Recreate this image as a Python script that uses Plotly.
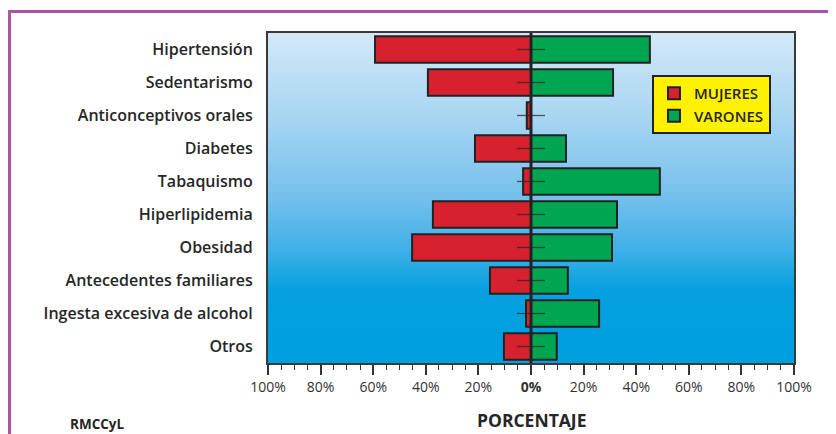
import plotly.graph_objects as go

categories = ["Hipertensión", "Sedentarismo", "Anticonceptivos orales", "Diabetes",
              "Tabaquismo", "Hiperlipidemia", "Obesidad", "Antecedentes familiares",
              "Ingesta excesiva de alcohol", "Otros"]
mujeres = [59.3, 39.2, 1.6, 21.3, 3.0, 37.3, 45.2, 15.6, 1.9, 10.3]
varones = [45.2, 31.2, 0.0, 13.3, 49.0, 32.7, 30.8, 14.0, 25.9, 9.8]
tick_vals = [-100, -80, -60, -40, -20, 0, 20, 40, 60, 80, 100]
tick_text = ["100%", "80%", "60%", "40%", "20%", "<b>0%</b>", "20%", "40%", "60%", "80%", "100%"]

FONT = "Open Sans"
TXT = "#262626"

fig = go.Figure()
fig.add_trace(go.Bar(
    y=categories, x=[-v for v in mujeres], orientation="h", name="MUJERES",
    marker=dict(color="#d7212e", line=dict(color="#222222", width=2)), width=0.8,
))
fig.add_trace(go.Bar(
    y=categories, x=varones, orientation="h", name="VARONES",
    marker=dict(color="#00a551", line=dict(color="#222222", width=2)), width=0.8,
))
fig.add_trace(go.Scatter(
    y=categories, x=[0] * len(categories), mode="markers", showlegend=False,
    marker=dict(symbol="line-ew", size=20, line=dict(width=1.3, color="rgba(40,40,40,0.75)")),
    hoverinfo="skip",
))

# gradient background bands
def hex2rgb(h):
    h = h.lstrip("#")
    return tuple(int(h[i:i + 2], 16) for i in (0, 2, 4))

stops = [(0.0, "#009fdf"), (0.22, "#05a1e0"), (0.34, "#3fb0e7"), (0.5, "#74c0ec"),
         (0.75, "#a9d6f2"), (1.0, "#d3e9f8")]

def color_at(t):
    for (a, ca), (b, cb) in zip(stops[:-1], stops[1:]):
        if a <= t <= b:
            f = (t - a) / (b - a)
            r1, g1, b1 = hex2rgb(ca)
            r2, g2, b2 = hex2rgb(cb)
            return "rgb(%d,%d,%d)" % (r1 + (r2 - r1) * f, g1 + (g2 - g1) * f, b1 + (b2 - b1) * f)
    return stops[-1][1]

N = 110
shapes = []
for i in range(N):
    y0 = i / N
    y1 = (i + 1) / N + 0.002
    shapes.append(dict(type="rect", xref="x domain", yref="y domain", x0=0, x1=1, y0=y0, y1=min(y1, 1),
                       fillcolor=color_at((i + 0.5) / N), line=dict(width=0), layer="below"))
# zero line
shapes.append(dict(type="line", xref="x", yref="y domain", x0=0, x1=0, y0=0, y1=1,
                   line=dict(color="#222222", width=3), layer="above"))
# purple frame
shapes.append(dict(type="rect", xref="paper", yref="paper", x0=-0.4914, x1=1.5, y0=-0.5, y1=1.065,
                   line=dict(color="#a855a8", width=3), layer="above"))

fig.update_layout(
    width=828, height=426,
    margin=dict(l=260, r=42, t=25, b=71),
    paper_bgcolor="white", plot_bgcolor="rgba(0,0,0,0)",
    barmode="relative", bargap=0.2,
    shapes=shapes,
    font=dict(family=FONT, color=TXT),
    showlegend=True,
    legend=dict(
        x=0.73, y=0.873, xanchor="left", yanchor="top",
        bgcolor="#fff200", bordercolor="#222222", borderwidth=2,
        font=dict(family=FONT, size=15, color=TXT, weight=600),
        traceorder="normal", itemwidth=30, tracegroupgap=0,
    ),
    annotations=[
        dict(text="<b>PORCENTAJE</b>", xref="paper", yref="paper", x=0.5, y=-0.173,
             showarrow=False, font=dict(family=FONT, size=17.5, color=TXT), xanchor="center", yanchor="middle"),
        dict(text="<b>RMCCyL</b>", xref="paper", yref="paper", x=-0.38, y=-0.185,
             showarrow=False, font=dict(family=FONT, size=13.5, color=TXT), xanchor="left", yanchor="middle"),
    ],
)
fig.update_xaxes(
    range=[-100, 100], tickvals=tick_vals, ticktext=tick_text,
    ticks="outside", ticklen=10, tickwidth=1.5, tickcolor="#333333",
    minor=dict(dtick=5, ticks="outside", ticklen=5, tickwidth=1, tickcolor="#333333", showgrid=False),
    showgrid=False, zeroline=False,
    showline=True, linecolor="#3a3a3a", linewidth=2, mirror=True,
    tickfont=dict(family=FONT, size=14, color="#333333"),
    fixedrange=True,
)
fig.update_yaxes(
    categoryorder="array", categoryarray=categories,
    range=[len(categories) - 0.5, -0.5], autorange=False,
    showgrid=False, zeroline=False, ticks="", ticklabelstandoff=10,
    showline=True, linecolor="#3a3a3a", linewidth=2, mirror=True,
    tickfont=dict(family=FONT, size=16, color=TXT, weight=600),
    fixedrange=True,
)

fig.write_html("out.html")
